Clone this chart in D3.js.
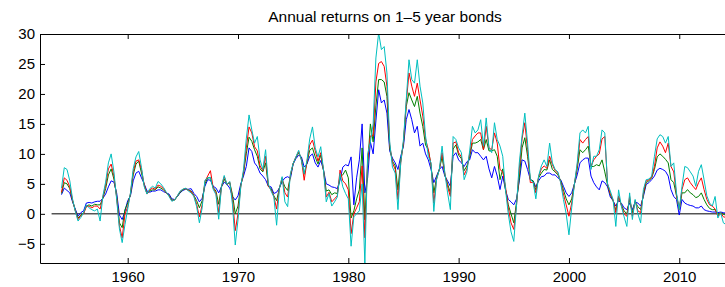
<!DOCTYPE html>
<html>
<head>
<meta charset="utf-8">
<script src="https://cdn.jsdelivr.net/npm/d3@7"></script>
<style>
  body { margin: 0; background: #fff; }
  svg { display: block; font-family: "Liberation Sans", Arial, sans-serif; }
</style>
</head>
<body>
<svg id="chart"></svg>
<script>
// quarterly observations, first point 1954.0
const startYear = 1954;
const stepYears = 0.25;

const oneYear = [
  3.2, 4.3, 3.9, 3.5,  2.0, 0.8, -0.4, 0.2,  0.5, 1.8, 1.9, 1.8,  2.0, 2.1, 2.1, 2.6,
  3.3, 4.5, 5.5, 5.3,  3.5, -0.2, -0.95, 0.45,  2.2, 3.0, 5.5, 6.8,  7.1, 6.0, 5.0, 3.8,
  3.6, 3.8, 3.8, 4.0,  4.0, 3.7, 3.5, 3.3,  2.5, 2.4, 2.9, 3.5,  3.9, 4.1, 4.1, 4.2,
  3.4, 2.9, 2.0, 2.6,  4.6, 5.7, 5.6, 4.6,  4.3, 3.5, 4.5, 5.3,  4.9, 4.3, 2.9, 2.3,
  3.0, 5.0, 6.3, 7.9,  11.0, 10.4, 8.5, 7.9,  6.8, 6.3, 5.7, 4.6,  4.5, 3.4, 3.6, 4.3,
  5.4, 6.0, 6.2, 5.9,  8.3, 9.2, 9.8, 9.5,  7.8, 8.3, 9.6, 10.0,  8.5, 7.8, 8.9, 7.3,
  5.0, 4.8, 4.5, 4.4,  4.2, 5.6, 7.8, 8.2,  8.0, 9.5, 1.5, 6.0,  9.0, 15.0, 3.5, 6.0,
  12.0, 10.0, 15.5, 20.7,  18.5, 19.0, 16.8, 10.5,  9.3, 8.5, 7.4, 9.6,  11.3, 15.7, 17.4, 15.7,
  13.5, 14.6, 11.3, 11.8,  10.0, 9.0, 7.4, 5.2,  6.3, 7.4, 7.9, 6.3,  5.5, 4.6, 9.6, 10.2,
  9.0, 8.5, 7.9, 8.7,  9.0, 10.7, 10.2, 10.2,  9.6, 9.0, 9.6, 7.5,  6.0, 7.9, 6.3, 4.05,
  6.3, 4.0, 2.4, 2.0,  1.5, 2.5, 5.5, 9.0,  8.8, 7.4, 5.7, 5.5,  4.5, 5.5, 6.2, 6.3,
  6.8, 6.8, 6.5, 6.5,  6.0, 5.7, 4.6, 3.5,  2.9, 3.5, 5.0, 6.5,  8.5, 9.0, 9.3, 9.3,
  6.3, 5.2, 4.5, 4.0,  5.5, 5.2, 4.5, 2.8,  2.2, 1.3, 2.2, 1.8,  1.0, 0.7, 1.8, 0.7,
  2.0, 1.8, 1.3, 2.9,  4.9, 5.2, 5.7, 6.3,  7.3, 7.6, 7.4, 7.1,  6.3, 4.05, 2.9, 2.4,
  -0.2, 2.4, 1.8, 1.55,  1.4, 1.3, 1.0, 1.0,  1.3, 0.7, 0.5, 0.4,  0.3, 0.3, 0.2, 0.3,
  0.2, 0.1
];

const twoYear = [
  3.4, 5.2, 5.0, 4.2,  2.2, 0.6, -0.7, -0.2,  0.1, 1.3, 1.5, 1.3,  1.6, 1.5, 1.5, 2.6,
  4.2, 6.5, 7.5, 5.8,  3.0, -1.5, -2.3, 0.7,  1.8, 3.2, 6.5, 8.3,  8.8, 6.8, 4.8, 3.4,
  3.8, 4.0, 4.0, 4.5,  4.3, 4.0, 3.5, 3.1,  2.3, 2.3, 2.9, 3.6,  4.0, 4.2, 4.0, 3.8,
  3.1, 2.2, 1.0, 2.2,  5.0, 6.0, 6.0, 4.4,  3.8, 1.6, 4.5, 5.8,  4.9, 5.2, 3.2, 0.0,
  1.3, 4.7, 6.8, 10.0,  12.8, 12.1, 10.7, 9.6,  7.5, 7.0, 8.5, 4.6,  4.2, 3.0, 2.2, 4.3,
  5.7, 4.5, 3.9, 6.3,  8.4, 9.4, 10.2, 9.2,  6.6, 8.5, 10.6, 11.0,  9.5, 8.3, 9.8, 7.3,
  3.8, 4.0, 3.2, 3.5,  3.4, 6.2, 6.5, 7.3,  6.0, -0.7, 0.5, 2.5,  4.0, 11.0, -1.0, 8.0,
  15.0, 12.0, 18.0, 22.4,  22.4, 22.0, 19.6, 11.0,  8.8, 8.0, 4.0, 9.0,  11.8, 17.9, 20.2, 19.0,
  17.9, 19.6, 16.8, 14.6,  11.5, 10.7, 8.0, 3.5,  6.0, 7.4, 9.5, 6.5,  5.0, 3.5, 10.8, 11.5,
  9.8, 9.2, 7.2, 8.0,  9.5, 11.8, 11.8, 12.0,  12.4, 10.7, 12.4, 10.5,  10.5, 10.7, 9.6, 5.7,
  7.5, 4.0, 1.5, 0.0,  -1.5, 2.0, 6.0, 11.0,  12.7, 9.6, 5.7, 5.5,  4.0, 6.0, 6.8, 7.4,
  7.3, 9.0, 7.4, 7.0,  6.5, 5.5, 4.0, 2.5,  1.5, 2.5, 5.0, 7.5,  10.7, 10.2, 10.7, 11.3,
  7.9, 7.9, 8.2, 8.0,  9.0, 7.0, 4.8, 3.2,  2.2, 0.6, 2.8, 1.5,  0.5, 0.0, 2.4, 0.2,
  2.0, 1.2, 0.7, 3.2,  5.2, 5.5, 6.0, 7.4,  9.5, 10.0, 9.6, 9.1,  8.5, 5.7, 5.2, 3.0,
  0.7, 3.5, 3.5, 4.05,  3.5, 3.2, 2.7, 2.9,  3.5, 2.4, 1.5, 0.9,  0.7, 0.7, -0.1, 0.2,
  -0.1, -0.2
];

const threeYear = [
  3.6, 6.0, 5.6, 4.5,  2.3, 0.5, -0.95, -0.3,  0.0, 1.2, 1.3, 1.0,  1.3, 1.3, 0.8, 2.8,
  4.8, 7.5, 8.3, 6.3,  2.7, -2.0, -4.0, -0.1,  1.2, 3.4, 7.0, 8.8,  9.0, 7.4, 4.8, 3.3,
  4.0, 4.3, 4.1, 4.8,  4.6, 4.2, 3.5, 3.0,  2.2, 2.3, 3.0, 3.7,  4.1, 4.2, 3.9, 3.7,
  3.0, 1.6, -0.5, 1.5,  5.4, 6.3, 7.2, 4.3,  3.5, 0.2, 4.5, 6.2,  4.9, 5.3, 2.4, -2.8,
  0.0, 4.6, 7.0, 11.0,  14.5, 13.5, 11.2, 10.5,  8.0, 7.2, 9.6, 4.6,  4.0, 2.9, 0.8, 4.3,
  6.0, 3.5, 2.8, 6.5,  8.4, 9.5, 10.4, 9.0,  5.6, 8.7, 11.5, 12.3,  10.5, 8.8, 10.2, 7.3,
  2.8, 3.6, 2.0, 2.5,  3.0, 7.3, 5.5, 5.0,  4.0, -3.3, 0.0, 1.0,  2.0, 8.0, -4.0, 9.0,
  13.0, 13.0, 22.0, 25.1,  25.4, 24.6, 21.3, 11.5,  8.5, 7.4, 2.4, 8.5,  12.0, 18.5, 23.5, 21.3,
  19.6, 21.8, 19.0, 16.3,  12.5, 10.7, 8.2, 1.8,  5.8, 7.4, 10.2, 6.7,  4.5, 2.9, 11.8, 12.0,
  10.2, 9.5, 6.5, 7.5,  10.0, 12.4, 13.0, 13.5,  13.5, 10.7, 14.6, 11.0,  10.7, 13.5, 11.8, 7.4,
  7.0, 4.5, 1.0, -1.5,  -2.6, 1.5, 7.5, 12.5,  15.2, 10.7, 5.2, 5.3,  3.5, 6.2, 7.5, 8.0,
  7.6, 9.6, 8.2, 7.2,  6.8, 5.3, 3.3, 1.5,  -0.4, 1.8, 5.0, 8.0,  12.4, 11.8, 12.4, 12.9,
  7.9, 9.0, 9.6, 10.0,  12.5, 12.9, 5.0, 3.4,  2.3, 0.2, 3.0, 1.4,  0.0, -0.4, 2.9, -0.4,
  2.2, 0.5, 0.2, 3.5,  5.5, 5.7, 6.1, 7.9,  11.0, 12.0, 11.3, 10.2,  11.8, 7.9, 7.0, 3.2,
  0.7, 4.05, 5.7, 6.0,  5.2, 4.6, 4.05, 5.2,  6.0, 4.05, 2.4, 1.5,  1.3, 0.8, -0.4, 0.2,
  -0.5, -0.6
];

const fourYear = [
  4.3, 7.7, 7.4, 5.5,  2.5, 0.4, -1.2, -0.6,  0.2, 1.5, 1.0, 0.7,  0.5, 0.8, -1.2, 3.0,
  5.3, 8.5, 10.0, 7.0,  2.4, -2.5, -4.8, -1.8,  0.8, 3.5, 7.5, 9.5,  10.4, 7.7, 4.5, 3.3,
  4.2, 4.6, 4.3, 5.4,  5.0, 4.4, 3.6, 2.9,  2.1, 2.3, 3.0, 3.8,  4.1, 4.3, 3.8, 3.5,
  2.9, 1.2, -1.5, 1.0,  5.6, 6.0, 6.1, 4.1,  3.2, -0.9, 4.6, 6.4,  4.9, 5.4, 1.5, -5.2,
  -1.0, 4.5, 7.4, 12.5,  16.5, 14.0, 11.8, 12.9,  9.0, 7.4, 10.7, 5.0,  3.8, 2.8, -1.9, 4.2,
  6.2, 2.0, 1.2, 6.7,  8.4, 9.5, 10.6, 8.9,  6.7, 8.9, 12.5, 14.5,  11.0, 9.5, 11.2, 7.3,
  2.0, 3.4, 1.3, 2.0,  2.8, 6.7, 4.5, 3.4,  2.5, -5.4, -0.5, 0.0,  0.5, 5.0, -8.3, 10.0,
  12.0, 15.0, 26.0, 30.2,  27.4, 27.9, 23.5, 12.0,  7.8, 6.8, 0.7, 8.5,  12.4, 19.0, 25.7, 22.4,
  21.8, 25.7, 21.3, 18.5,  13.0, 9.6, 8.5, 0.4,  5.7, 7.4, 11.3, 6.8,  3.5, 0.7, 12.9, 12.4,
  11.0, 10.2, 5.7, 7.0,  10.5, 14.6, 13.5, 14.0,  15.7, 11.3, 16.0, 11.0,  10.2, 15.2, 12.4, 11.3,
  9.6, 4.0, 0.0, -3.0,  -4.6, 1.5, 8.5, 13.0,  16.8, 11.8, 5.7, 5.3,  2.5, 6.3, 8.0, 9.0,
  7.9, 11.8, 8.5, 7.4,  7.0, 5.2, 2.4, 0.0,  -3.5, 1.0, 5.0, 8.5,  13.5, 14.0, 13.5, 14.6,
  7.4, 9.6, 9.6, 10.7,  14.0, 13.5, 5.0, 3.8,  2.4, -2.1, 4.0, 1.3,  -0.5, -2.1, 3.5, -0.95,
  2.4, 0.0, -1.5, 4.05,  5.7, 5.8, 6.3, 9.6,  12.5, 13.2, 12.9, 11.8,  12.9, 7.9, 8.5, 3.5,
  0.7, 4.6, 7.9, 7.7,  7.0, 6.3, 4.6, 7.1,  8.2, 5.7, 3.0, 1.8,  1.3, 2.9, -0.7, 0.2,
  -1.5, -1.8
];

const seriesList = [
  { name: "1 year", values: oneYear, color: "#0000ff" },
  { name: "2 year", values: twoYear, color: "#008000" },
  { name: "3 year", values: threeYear, color: "#ff0000" },
  { name: "4 year", values: fourYear, color: "#00bfbf" }
];

const xTicks = [1960, 1970, 1980, 1990, 2000, 2010];
const yTicks = [-5, 0, 5, 10, 15, 20, 25, 30];
const titleText = "Annual returns on 1\u20135 year bonds";

const width = 725, height = 287;
const margin = { top: 34, right: -5, bottom: 24, left: 40 };

const svg = d3.select("#chart").attr("width", width).attr("height", height);

const x = d3.scaleLinear()
  .domain([1952.05, 2014.6])
  .range([margin.left, width - margin.right]);
const y = d3.scaleLinear()
  .domain([-8.2, 30])
  .range([height - margin.bottom, margin.top]);

svg.append("defs").append("clipPath").attr("id", "plot-clip")
  .append("rect")
  .attr("x", margin.left).attr("y", margin.top)
  .attr("width", width - margin.right - margin.left)
  .attr("height", height - margin.bottom - margin.top);

// zero reference line
svg.append("line")
  .attr("x1", x(1953.1)).attr("x2", x(2015))
  .attr("y1", y(0)).attr("y2", y(0))
  .attr("stroke", "#000").attr("stroke-width", 1);

const dateOf = (i) => startYear + i * stepYears;
const line = d3.line()
  .x((d, i) => x(dateOf(i)))
  .y((d) => y(d));

const lines = svg.append("g").attr("clip-path", "url(#plot-clip)");
seriesList.forEach((s) => {
  lines.append("path")
    .datum(s.values)
    .attr("fill", "none")
    .attr("stroke", s.color)
    .attr("stroke-width", 1)
    .attr("stroke-linejoin", "round")
    .attr("d", line);
});

// axes, ticks pointing inward (box style)
const tickLen = 5;
const axisBottom = svg.append("g")
  .attr("transform", `translate(0,${height - margin.bottom})`)
  .call(d3.axisBottom(x).tickValues(xTicks).tickFormat(d3.format("d"))
    .tickSizeInner(-tickLen).tickSizeOuter(0).tickPadding(8));
const axisTop = svg.append("g")
  .attr("transform", `translate(0,${margin.top})`)
  .call(d3.axisTop(x).tickValues(xTicks).tickFormat("")
    .tickSizeInner(-tickLen).tickSizeOuter(0));
const axisLeft = svg.append("g")
  .attr("transform", `translate(${margin.left},0)`)
  .call(d3.axisLeft(y).tickValues(yTicks).tickFormat((d) => d < 0 ? "\u2212" + Math.abs(d) : d)
    .tickSizeInner(-tickLen).tickSizeOuter(0).tickPadding(5));

[axisBottom, axisTop, axisLeft].forEach((g) => {
  g.select(".domain").attr("stroke", "#000").attr("stroke-width", 1);
  g.selectAll(".tick line").attr("stroke", "#000");
  g.selectAll("text").attr("fill", "#000").attr("font-size", 15)
    .attr("font-family", "Liberation Sans, Arial, sans-serif");
});

svg.append("text")
  .attr("x", (margin.left + width - margin.right) / 2)
  .attr("y", 22)
  .attr("text-anchor", "middle")
  .attr("font-size", 15.5)
  .attr("fill", "#000")
  .text(titleText);
</script>
</body>
</html>
